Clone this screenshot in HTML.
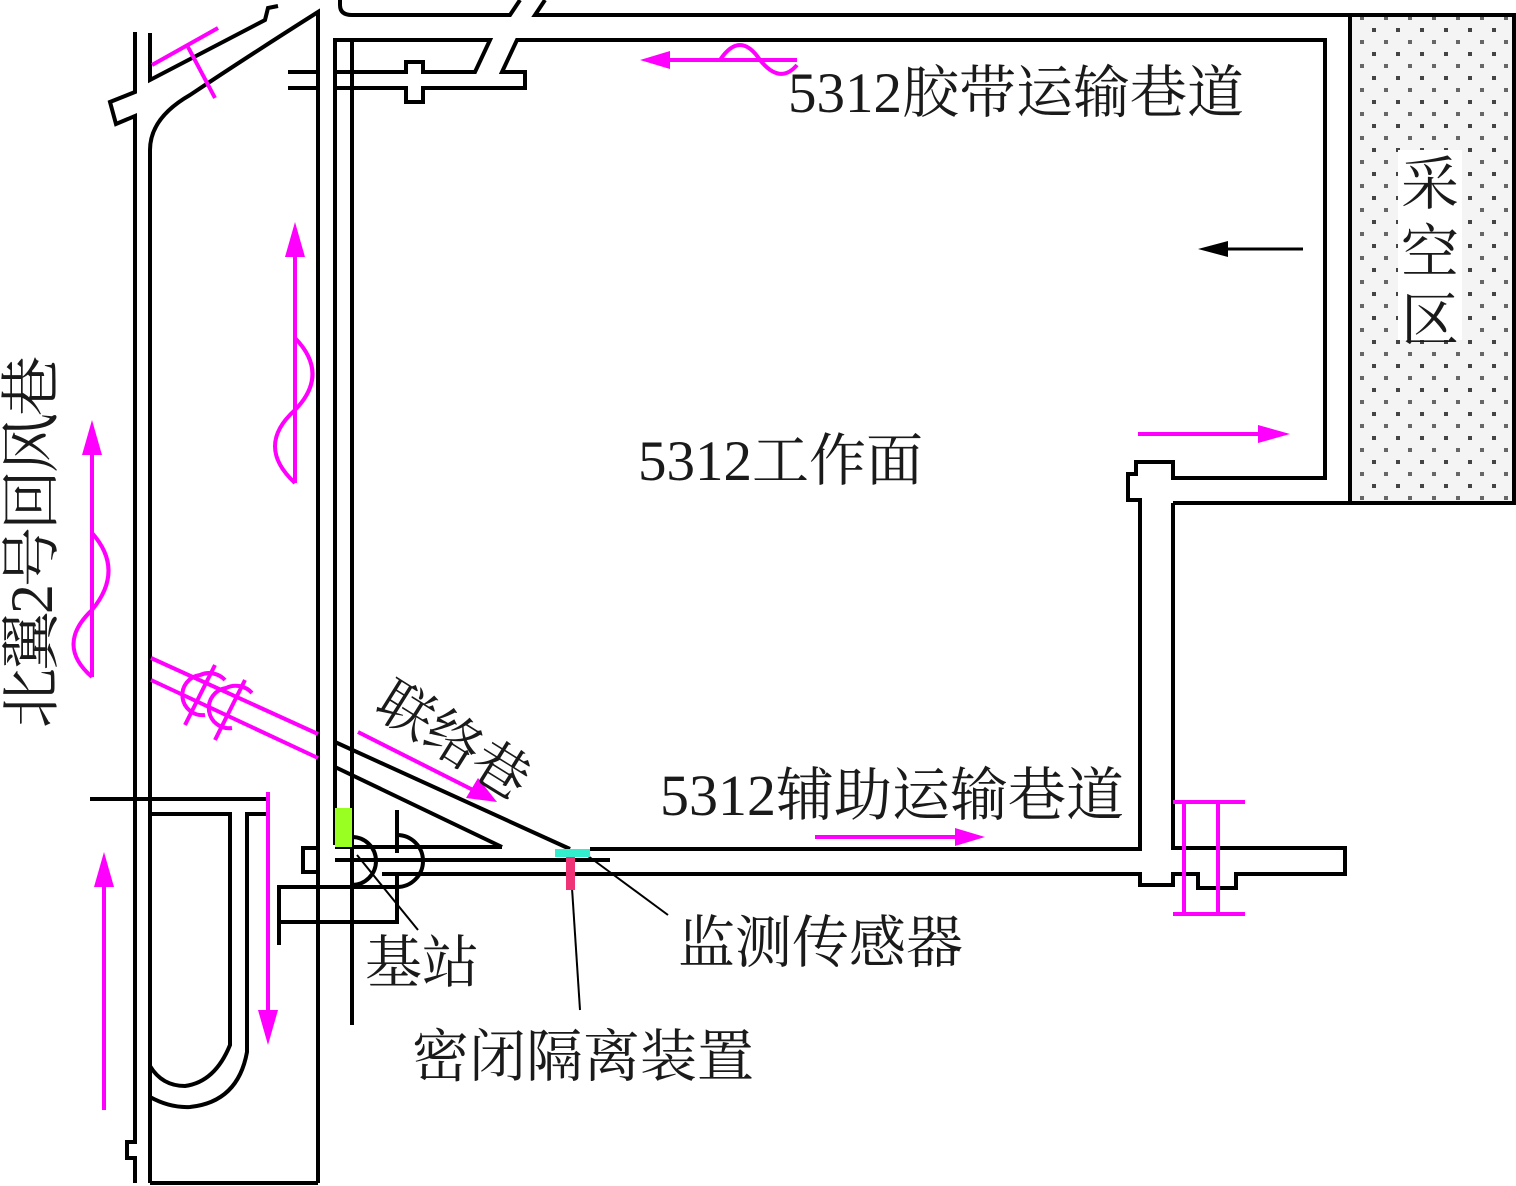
<!DOCTYPE html>
<html><head><meta charset="utf-8"><style>
html,body{margin:0;padding:0;background:#fff;}
svg{display:block;}
text{font-family:"Liberation Serif","Noto Serif CJK SC",serif;fill:#1a1a1a;}
</style></head><body>
<svg width="1516" height="1186" viewBox="0 0 1516 1186" xmlns="http://www.w3.org/2000/svg">
<defs>
<pattern id="dots" x="0" y="0" width="24" height="24" patternUnits="userSpaceOnUse">
<rect width="24" height="24" fill="#f4f4f4"/>
<rect x="4" y="4" width="4" height="4" fill="#444"/>
<rect x="16" y="16" width="4" height="4" fill="#666"/>
</pattern>
</defs>
<!-- goaf -->
<rect x="1350" y="15" width="164" height="488" fill="url(#dots)" stroke="#000" stroke-width="4"/>
<rect x="1398" y="150" width="64" height="190" fill="#fff"/>
<text x="1430" y="204" font-size="58" text-anchor="middle">采</text>
<text x="1430" y="272" font-size="58" text-anchor="middle">空</text>
<text x="1430" y="340" font-size="58" text-anchor="middle">区</text>

<g fill="none" stroke="#000" stroke-width="4">
<!-- left return airway -->
<polyline points="135,32 135,92 110,102 116,124 135,116 135,1142 127,1142 127,1158 135,1158 135,1183"/>
<polyline points="150,33 150,80 265,20 268,8 278,6"/>
<path d="M150,1183 L150,150 Q150,118 190,95 Q250,55 318,12 L318,1183"/>
<line x1="150" y1="1183" x2="318" y2="1183"/>
<!-- second vertical road -->
<polyline points="335,845 335,40 490,40 475,72 423,72 423,62 406,62 406,72 335,72"/>
<polyline points="335,88 406,88 406,102 423,102 423,88 525,88 525,72 502,72 517,40 1325,40 1325,478 1173,478 1173,462 1136,462 1136,474 1128,474 1128,500 1140,500 1140,849 590,849"/>
<line x1="352" y1="40" x2="352" y2="1025"/>
<line x1="288" y1="72" x2="318" y2="72"/>
<line x1="288" y1="88" x2="318" y2="88"/>
<path d="M340,0 L340,5 Q340,15 352,15 L510,15 L520,0"/>
<path d="M545,0 L535,15 L1350,15"/>
<polyline points="1173,503 1173,848 1345,848 1345,874 1236,874 1236,888 1198,888 1198,874 1173,874 1173,885 1140,885 1140,874 382,874"/>
<line x1="1173" y1="503" x2="1516" y2="503"/>
<!-- bottom tunnel near junction -->
<line x1="335" y1="860" x2="610" y2="860"/>
<line x1="335" y1="847" x2="502" y2="847"/>
<line x1="335" y1="742" x2="570" y2="849"/>
<line x1="335" y1="767" x2="502" y2="847"/>
<polyline points="318,848 303,848 303,872 318,872"/>
<polyline points="279,945 279,887 397,887 397,922 279,922"/>
<line x1="397" y1="810" x2="397" y2="853"/>
<line x1="397" y1="873" x2="397" y2="890"/>
<path d="M352,837 A24,24 0 0 1 352,885"/>
<path d="M397,835 A26,26 0 0 1 397,887"/>
<!-- J structure -->
<line x1="90" y1="799" x2="268" y2="799"/>
<path d="M150,814 L230,814 L230,1045 Q215,1082 185,1086 Q162,1086 150,1066"/>
<path d="M268,814 L247,814 L247,1052 Q238,1102 190,1107 Q170,1108 150,1097"/>
</g>
<!-- leader lines -->
<g stroke="#000" stroke-width="2" fill="none">
<line x1="357" y1="855" x2="418" y2="930"/>
<line x1="588" y1="856" x2="668" y2="915"/>
<line x1="572" y1="888" x2="580" y2="1010"/>
</g>
<!-- devices -->
<rect x="335" y="808" width="17" height="39" fill="#99ff22"/>
<rect x="555" y="849" width="35" height="8" fill="#33eecc"/>
<rect x="566" y="857" width="9" height="33" fill="#ee3377"/>
<!-- black arrow -->
<line x1="1303" y1="249" x2="1220" y2="249" stroke="#000" stroke-width="3"/>
<polygon points="1198,249 1228,241 1228,257" fill="#000"/>

<g stroke="#ff00ff" stroke-width="4" fill="none">
<line x1="152" y1="65" x2="218" y2="28"/>
<line x1="188" y1="47" x2="215" y2="98"/>
<line x1="92" y1="677" x2="92" y2="450"/>
<path d="M92,533 Q125,570 92,610 Q55,645 92,677"/>
<line x1="295" y1="483" x2="295" y2="252"/>
<path d="M295,338 Q330,374 295,410 Q255,446 295,483"/>
<line x1="797" y1="60" x2="665" y2="60"/>
<path d="M720,60 Q740,30 760,60 Q780,85 797,65"/>
<line x1="1138" y1="434" x2="1265" y2="434"/>
<line x1="815" y1="837" x2="960" y2="837"/>
<line x1="358" y1="732" x2="475" y2="791"/>
<line x1="104" y1="1110" x2="104" y2="880"/>
<line x1="268" y1="792" x2="268" y2="1015"/>
<line x1="151" y1="658" x2="318" y2="734"/>
<line x1="151" y1="680" x2="318" y2="758"/>
<path d="M205,715 A18,18 0 0 1 200,675 A22,22 0 0 1 225,680"/>
<path d="M232,728 A18,18 0 0 1 226,688 A22,22 0 0 1 252,693"/>
<line x1="215" y1="665" x2="185" y2="725"/>
<line x1="245" y1="680" x2="215" y2="740"/>
<line x1="1173" y1="802" x2="1245" y2="802"/>
<line x1="1173" y1="914" x2="1245" y2="914"/>
<line x1="1184" y1="802" x2="1184" y2="914"/>
<line x1="1218" y1="802" x2="1218" y2="914"/>
</g>
<g fill="#ff00ff">
<polygon points="92,420 82,455 102,455"/>
<polygon points="295,222 285,257 305,257"/>
<polygon points="640,60 670,51 670,69"/>
<polygon points="1290,434 1258,425 1258,443"/>
<polygon points="985,837 955,828 955,846"/>
<polygon points="497,802 466,798 478,778"/>
<polygon points="104,852 94,887 114,887"/>
<polygon points="268,1045 258,1010 278,1010"/>
</g>

<text x="788" y="112" font-size="57">5312胶带运输巷道</text>
<text x="638" y="480" font-size="57">5312工作面</text>
<text x="660" y="815" font-size="58">5312辅助运输巷道</text>
<text x="678" y="962" font-size="57">监测传感器</text>
<text x="365" y="982" font-size="57">基站</text>
<text x="412" y="1076" font-size="57">密闭隔离装置</text>
<text transform="translate(52,728) rotate(-90)" font-size="60" textLength="372" lengthAdjust="spacing">北翼2号回风巷</text>
<text transform="translate(372,712) rotate(32)" font-size="56">联络巷</text>
</svg>
</body></html>
